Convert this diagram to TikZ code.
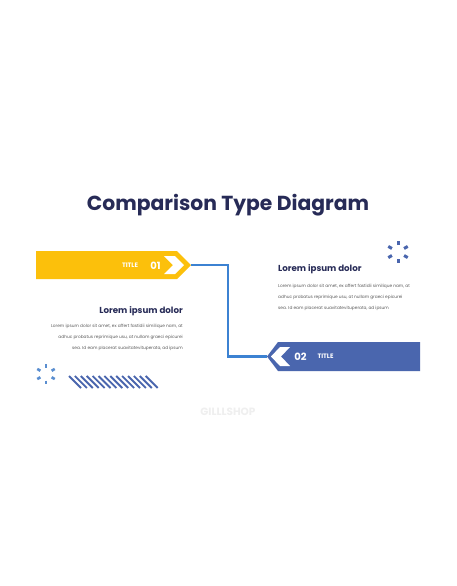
\documentclass[tikz,border=0pt]{standalone}
\usepackage{fontspec}
\setmainfont{Poppins}
\definecolor{ylw}{HTML}{FCC00B}
\definecolor{bnr}{HTML}{4A66AE}
\definecolor{lnk}{HTML}{3C82D2}
\definecolor{navy}{HTML}{272B57}
\definecolor{bodyg}{HTML}{5A5A5A}
\definecolor{lblue}{HTML}{5A8ED0}
\definecolor{wm}{HTML}{EFEFEF}
\begin{document}
\begin{tikzpicture}[x=1pt,y=-1pt,
  heading/.style={font=\fontsize{8.7}{10}\selectfont\bfseries, text=navy, inner sep=0pt},
  bodytxt/.style={font=\fontsize{4.3}{11}\selectfont, text=bodyg, inner sep=0pt},
  tagsmall/.style={font=\fontsize{6.4}{7}\selectfont\bfseries, text=white, inner sep=0pt},
  tagnum/.style={font=\fontsize{10}{11}\selectfont\bfseries, text=white, inner sep=0pt},
  spark/.style={line width=3pt},
  stripe/.style={line width=1.9pt, bnr}
]
\useasboundingbox[fill=white] (0,0) rectangle (456,586);

% title
\node[font=\fontsize{20.3}{24}\selectfont\bfseries, text=navy, inner sep=0pt] (title) at (228,205) {Comparison Type Diagram};

% yellow banner
\fill[ylw] (36,251) -- (177,251) -- (191,265) -- (177,279) -- (36,279) -- cycle;
\fill[white] (164,256) -- (175,256) -- (184,265) -- (175,274) -- (164,274) -- (173,265) -- cycle;
\coordinate (ytip) at (191,265);
\node[tagsmall] (t1) at (130,265.5) {TITLE};
\node[tagnum] (n1) at (155.5,265.5) {01};

% blue banner
\fill[bnr] (420,342) -- (278,342) -- (267,356.5) -- (278,371) -- (420,371) -- cycle;
\fill[white] (290,347) -- (280,347) -- (271,356.5) -- (280,366) -- (290,366) -- (281,356.5) -- cycle;
\coordinate (btip) at (267,356.5);
\node[tagnum] (n2) at (300.5,356.5) {02};
\node[tagsmall] (t2) at (325.5,356.5) {TITLE};

% connector
\draw[lnk, line width=2.8pt] (ytip) -- ++(37,0) |- (btip);

% left text block
\node[heading, anchor=east] (h1) at (183,311) {Lorem ipsum dolor};
\node[bodytxt, anchor=north east, align=right] (b1) at (183,324.5) {Lorem ipsum dolor sit amet, ex affert fastidii similique nam, at\\adhuc probatus reprimique usu, at nullam graeci epicurei\\sea. Id eam placerat suavitatevituperata, ad ipsum};

% right text block
\node[heading, anchor=west] (h2) at (278,269.5) {Lorem ipsum dolor};
\node[bodytxt, anchor=north west, align=left] (b2) at (278,284) {Lorem ipsum dolor sit amet, ex affert fastidii similique nam, at\\adhuc probatus reprimique usu, at nullam graeci epicurei\\sea. Id eam placerat suavitatevituperata, ad ipsum};

% sparkles
\foreach \a in {90,30,150,210,270,330}{
  \draw[spark, bnr] (398,252) ++(\a:7) -- ++(\a:4.2);
  \draw[spark, lblue, line width=2.6pt] (46,374) ++(\a:6.5) -- ++(\a:3.6);
}

% stripes
\foreach \i in {0,...,13}{
  \draw[stripe] (69+\i*5.9,376) -- (81+\i*5.9,388);
}

% watermark
\node[font=\fontsize{10.5}{12}\selectfont\bfseries, text=wm, inner sep=0pt] (wmk) at (228,412) {GILLLSHOP};
\end{tikzpicture}
\end{document}
